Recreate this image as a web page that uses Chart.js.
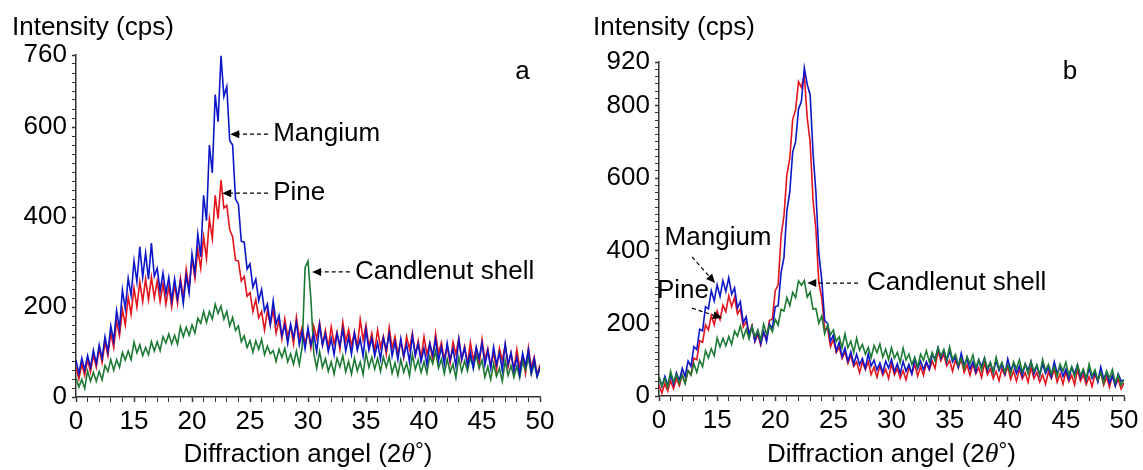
<!DOCTYPE html>
<html>
<head>
<meta charset="utf-8">
<title>XRD patterns</title>
<script src="https://cdn.jsdelivr.net/npm/chart.js@4.4.1/dist/chart.umd.min.js"></script>
<style>
    body { margin: 0; background: #fff; }
    .panel { position: absolute; top: 0; height: 470px; }
    #panelA { left: 0; width: 565px; }
    #panelB { left: 580px; width: 563px; }
</style>
</head>
<body>
<div class="panel" id="panelA"><canvas id="chartA"></canvas></div>
<div class="panel" id="panelB"><canvas id="chartB"></canvas></div>
<script>
// Sample angles, 10 to 50 deg every 0.25 deg (the axis labels 10 as "0")
const angles = Array.from({ length: 161 }, (_, i) => 10 + i * 0.25);
const xTickLabels = ['0', '15', '20', '25', '30', '35', '40', '45', '50'];
const yTickLabelsA = [0, 200, 400, 600, 760];
const yTickLabelsB = [0, 200, 400, 600, 800, 920];

// Panel a - intensities (cps), 4 values per degree
const mangiumA = [
    82, 52, 86, 60,  92, 66, 104, 74,  116, 86, 134, 100,  158, 124, 192, 152,
    238, 196, 264, 226,  302, 256, 334, 266,  320, 262, 342, 268,  286, 236, 276, 230,
    266, 214, 262, 218,  256, 208, 270, 232,  318, 276, 362, 312,  448, 392, 560, 498,
    672, 612, 758, 668,  690, 570, 560, 440,  428, 346, 344, 284,  296, 244, 262, 214,
    239, 191, 207, 161,  214, 162, 181, 136,  160, 119, 162, 132,  165, 116, 146, 107,
    154, 115, 140, 101,  160, 115, 140, 101,  130, 94, 141, 115,  150, 102, 133, 95,
    142, 104, 129, 91,  149, 104, 130, 91,  120, 84, 131, 105,  140, 91, 122, 83,
    130, 91, 117, 78,  137, 92, 118, 79,  108, 72, 119, 93,  128, 80, 111, 73,
    120, 82, 107, 69,  128, 84, 109, 71,  100, 64, 111, 85,  120, 71, 103, 64,
    111, 72, 98, 59,  118, 73, 98, 59,  88, 50, 97, 70,  104, 54, 85, 46,
    66
];
const pineA = [
    66, 40, 74, 48,  84, 56, 94, 66,  108, 76, 122, 92,  142, 110, 168, 136,
    194, 160, 222, 184,  242, 200, 256, 212,  262, 216, 266, 220,  258, 212, 252, 206,
    246, 200, 250, 208,  264, 220, 284, 240,  308, 264, 328, 286,  356, 308, 396, 352,
    448, 396, 482, 420,  426, 372, 356, 304,  302, 258, 268, 224,  232, 190, 216, 176,
    190, 149, 192, 161,  193, 142, 170, 129,  174, 134, 158, 118,  177, 132, 156, 117,
    146, 109, 157, 130,  165, 116, 148, 109,  156, 118, 144, 106,  166, 123, 150, 113,
    144, 110, 172, 127,  160, 111, 142, 102,  149, 110, 135, 95,  154, 109, 134, 95,
    124, 87, 134, 107,  142, 93, 125, 86,  134, 95, 120, 82,  141, 96, 121, 83,
    112, 75, 122, 95,  130, 81, 112, 74,  121, 82, 107, 69,  128, 83, 108, 69,
    98, 61, 108, 81,  116, 67, 98, 59,  106, 66, 91, 52,  110, 65, 89, 50,
    72
];
const candlenutA = [
    42, 22, 39, 19,  58, 35, 55, 35,  57, 38, 70, 57,  83, 59, 83, 66,
    99, 82, 102, 83,  122, 98, 116, 92,  110, 94, 123, 102,  123, 103, 134, 120,
    140, 118, 137, 117,  156, 134, 155, 137,  160, 142, 175, 164,  190, 166, 190, 173,
    206, 186, 202, 173,  190, 158, 177, 148,  158, 123, 136, 110,  125, 99, 125, 106,
    128, 94, 113, 96,  103, 79, 106, 88,  108, 78, 96, 73,  102, 72, 112, 288,
    302, 218, 96, 64,  101, 66, 85, 57,  78, 51, 86, 67,  92, 56, 79, 51,
    86, 58, 78, 50,  98, 66, 88, 62,  86, 57, 89, 66,  90, 53, 76, 48,
    83, 55, 75, 47,  94, 61, 82, 55,  78, 53, 91, 74,  102, 64, 84, 52,
    84, 55, 73, 43,  88, 56, 80, 58,  88, 65, 93, 64,  82, 44, 67, 39,
    74, 46, 64, 35,  81, 48, 70, 44,  68, 42, 79, 60,  87, 51, 74, 45,
    62
];

// Panel b - intensities (cps)
const mangiumB = [
    52, 26, 54, 30,  58, 32, 64, 42,  76, 54, 96, 82,  136, 128, 184, 180,
    246, 240, 290, 262,  306, 274, 318, 288,  326, 280, 298, 242,  260, 202, 218, 168,
    192, 152, 180, 144,  178, 150, 198, 186,  246, 248, 340, 382,  510, 562, 672, 700,
    790, 812, 904, 858,  830, 670, 560, 392,  320, 208, 200, 150,  168, 124, 148, 108,
    132, 96, 122, 88,  115, 86, 103, 76,  116, 83, 99, 72,  91, 64, 96, 77,
    101, 67, 89, 62,  95, 68, 87, 61,  104, 75, 96, 73,  94, 74, 114, 102,
    133, 105, 126, 95,  125, 94, 108, 79,  118, 85, 101, 74,  94, 67, 100, 81,
    105, 70, 92, 64,  97, 70, 87, 61,  102, 71, 88, 62,  82, 56, 89, 71,
    95, 61, 83, 56,  89, 62, 79, 53,  94, 63, 80, 54,  74, 47, 80, 62,
    86, 51, 72, 44,  77, 49, 66, 39,  80, 47, 64, 36,  56, 28, 61, 41,
    44
];
const pineB = [
    30, 8, 34, 14,  42, 20, 48, 28,  58, 36, 70, 58,  104, 100, 152, 148,
    196, 182, 222, 196,  234, 210, 250, 232,  276, 246, 272, 226,  240, 190, 206, 172,
    194, 150, 170, 140,  176, 156, 208, 212,  290, 306, 440, 496,  610, 654, 762, 788,
    866, 850, 884, 766,  700, 540, 458, 312,  270, 184, 186, 136,  156, 120, 134, 104,
    122, 90, 112, 82,  94, 64, 94, 73,  95, 59, 80, 52,  84, 57, 74, 48,
    89, 58, 76, 49,  70, 44, 79, 61,  87, 55, 81, 57,  93, 72, 96, 76,
    124, 97, 115, 83,  98, 68, 99, 78,  101, 65, 86, 57,  89, 61, 78, 51,
    92, 59, 75, 48,  68, 42, 75, 57,  81, 46, 69, 41,  74, 47, 64, 38,
    79, 48, 65, 39,  59, 33, 66, 48,  73, 38, 61, 33,  67, 40, 57, 31,
    73, 41, 59, 32,  53, 26, 59, 41,  65, 30, 52, 24,  57, 29, 46, 19,
    36
];
const candlenutB = [
    53, 28, 48, 24,  68, 39, 59, 35,  58, 34, 70, 58,  89, 65, 98, 81,
    125, 105, 130, 111,  160, 135, 159, 138,  164, 142, 179, 165,  193, 160, 184, 157,
    191, 164, 181, 155,  198, 171, 193, 177,  211, 195, 239, 234,  271, 249, 285, 271,
    317, 305, 318, 272,  286, 239, 241, 200,  221, 171, 196, 169,  182, 150, 163, 133,
    171, 133, 151, 120,  159, 126, 142, 115,  134, 106, 139, 119,  143, 107, 129, 100,
    133, 104, 120, 92,  132, 99, 115, 87,  106, 80, 115, 98,  125, 94, 120, 96,
    133, 110, 128, 99,  136, 101, 115, 86,  104, 76, 109, 89,  113, 78, 100, 71,
    104, 76, 93, 66,  107, 75, 93, 66,  86, 60, 94, 75,  100, 66, 88, 61,
    95, 68, 86, 59,  101, 70, 87, 61,  81, 54, 88, 69,  93, 58, 80, 52,
    85, 57, 74, 47,  88, 55, 72, 44,  64, 36, 69, 49,  73, 37, 58, 30,
    45
];

const FONT = 'Arial, "Liberation Sans", sans-serif';
const BLUE = '#0b16c9';
const RED = '#e3141c';
const GREEN = '#1c7a34';

function toPoints(values) {
    return angles.map((a, i) => ({ x: a, y: values[i] }));
}

function drawArrow(ctx, x1, y1, x2, y2) {
    const ang = Math.atan2(y2 - y1, x2 - x1);
    const head = 9, half = 4;
    const bx = x2 - head * Math.cos(ang), by = y2 - head * Math.sin(ang);
    ctx.save();
    ctx.strokeStyle = '#000';
    ctx.lineWidth = 1.2;
    ctx.setLineDash([4, 3]);
    ctx.beginPath();
    ctx.moveTo(x1, y1);
    ctx.lineTo(bx, by);
    ctx.stroke();
    ctx.setLineDash([]);
    ctx.fillStyle = '#000';
    ctx.beginPath();
    ctx.moveTo(x2, y2);
    ctx.lineTo(bx + half * Math.sin(ang), by - half * Math.cos(ang));
    ctx.lineTo(bx - half * Math.sin(ang), by + half * Math.cos(ang));
    ctx.closePath();
    ctx.fill();
    ctx.restore();
}

// Texts, arrows and axis titles drawn on top of the chart
function notesPlugin(notes) {
    return {
        id: 'notes',
        afterDraw(chart) {
            const ctx = chart.ctx;
            const xs = chart.scales.x, ys = chart.scales.y;
            const area = chart.chartArea;
            ctx.save();
            ctx.fillStyle = '#000';
            ctx.textBaseline = 'middle';

            // y title
            ctx.font = '26px ' + FONT;
            ctx.textAlign = 'left';
            ctx.fillText('Intensity (cps)', notes.yTitleX, 28);

            // x title with italic theta
            const parts = [
                { t: 'Diffraction angel (2', f: '26px ' + FONT, dy: 0 },
                { t: '\u03B8', f: 'italic 28px "Liberation Serif", "Times New Roman", serif', dy: 0 },
                { t: '\u00B0', f: '22px ' + FONT, dy: -3 },
                { t: ')', f: '26px ' + FONT, dy: 0 }
            ];
            let total = 0;
            parts.forEach(p => { ctx.font = p.f; p.w = ctx.measureText(p.t).width; total += p.w; });
            let cx = (area.left + area.right) / 2 - total / 2;
            parts.forEach(p => {
                ctx.font = p.f;
                ctx.fillText(p.t, cx, 455 + p.dy);
                cx += p.w;
            });

            // panel letter
            ctx.font = '26px ' + FONT;
            ctx.textAlign = 'center';
            ctx.fillText(notes.letter.text, xs.getPixelForValue(notes.letter.x), ys.getPixelForValue(notes.letter.y));

            notes.labels.forEach(l => {
                ctx.textAlign = l.align;
                ctx.fillText(l.text, xs.getPixelForValue(l.x), ys.getPixelForValue(l.y));
            });
            notes.arrows.forEach(a => {
                drawArrow(ctx,
                    xs.getPixelForValue(a.from[0]), ys.getPixelForValue(a.from[1]),
                    xs.getPixelForValue(a.to[0]), ys.getPixelForValue(a.to[1]));
            });
            ctx.restore();
        }
    };
}

function makePanel(canvasId, series, yMax, yLabels, box, notes) {
    const ctx = document.getElementById(canvasId).getContext('2d');
    return new Chart(ctx, {
        type: 'line',
        data: {
            datasets: series.map(s => ({
                label: s.label,
                data: toPoints(s.values),
                borderColor: s.color,
                borderWidth: 1.6,
                pointRadius: 0,
                tension: 0,
                fill: false,
                order: s.order
            }))
        },
        options: {
            responsive: true,
            maintainAspectRatio: false,
            animation: false,
            layout: {
                padding: { top: box.top, right: box.right, bottom: 0, left: 0 }
            },
            plugins: {
                legend: { display: false },
                tooltip: { enabled: false }
            },
            scales: {
                x: {
                    type: 'linear',
                    min: 10,
                    max: 50,
                    afterFit: scale => { scale.height = box.xAxisHeight; },
                    border: { display: true, color: '#333', width: 1.5 },
                    grid: {
                        drawOnChartArea: false,
                        tickLength: 5,
                        tickColor: '#333',
                        tickWidth: c => (c.tick && c.tick.value % 5 === 0 ? 1.5 : 1)
                    },
                    ticks: {
                        stepSize: 1,
                        autoSkip: false,
                        maxRotation: 0,
                        padding: 4,
                        color: '#000',
                        font: { family: FONT, size: 26 },
                        callback: v => (v % 5 === 0 ? xTickLabels[(v - 10) / 5] : '')
                    }
                },
                y: {
                    type: 'linear',
                    min: 0,
                    max: yMax,
                    afterFit: scale => { scale.width = box.yAxisWidth; },
                    border: { display: true, color: '#333', width: 1.5 },
                    grid: {
                        drawOnChartArea: false,
                        tickLength: 4,
                        tickColor: '#333',
                        tickWidth: c => (c.tick && yLabels.includes(c.tick.value) ? 1.5 : 1)
                    },
                    ticks: {
                        stepSize: 20,
                        autoSkip: false,
                        padding: 5,
                        color: '#000',
                        font: { family: FONT, size: 26 },
                        callback: v => (yLabels.includes(v) ? String(v) : '')
                    }
                }
            }
        },
        plugins: [notesPlugin(notes)]
    });
}

makePanel('chartA', [
    { label: 'Pine', values: pineA, color: RED, order: 3 },
    { label: 'Mangium', values: mangiumA, color: BLUE, order: 1 },
    { label: 'Candlenut shell', values: candlenutA, color: GREEN, order: 2 }
], 760, yTickLabelsA,
{ top: 55, right: 25, yAxisWidth: 76, xAxisHeight: 73 },
{
    yTitleX: 12,
    letter: { text: 'a', x: 48.5, y: 722 },
    labels: [
        { text: 'Mangium', x: 27.0, y: 584, align: 'left' },
        { text: 'Pine', x: 27.0, y: 453, align: 'left' },
        { text: 'Candlenut shell', x: 34.05, y: 278, align: 'left' }
    ],
    arrows: [
        { from: [26.55, 584], to: [23.3, 584] },
        { from: [26.55, 453], to: [22.6, 453] },
        { from: [33.6, 278], to: [30.35, 278] }
    ]
});

makePanel('chartB', [
    { label: 'Pine', values: pineB, color: RED, order: 3 },
    { label: 'Mangium', values: mangiumB, color: BLUE, order: 2 },
    { label: 'Candlenut shell', values: candlenutB, color: GREEN, order: 1 }
], 920, yTickLabelsB,
{ top: 62, right: 19, yAxisWidth: 79, xAxisHeight: 74 },
{
    yTitleX: 13,
    letter: { text: 'b', x: 45.35, y: 893 },
    labels: [
        { text: 'Mangium', x: 15.08, y: 435, align: 'center' },
        { text: 'Pine', x: 12.06, y: 289, align: 'center' },
        { text: 'Candlenut shell', x: 27.9, y: 311, align: 'left' }
    ],
    arrows: [
        { from: [12.84, 383], to: [14.82, 311] },
        { from: [12.84, 242], to: [15.42, 215] },
        { from: [27.12, 311], to: [22.75, 311] }
    ]
});
</script>
</body>
</html>
